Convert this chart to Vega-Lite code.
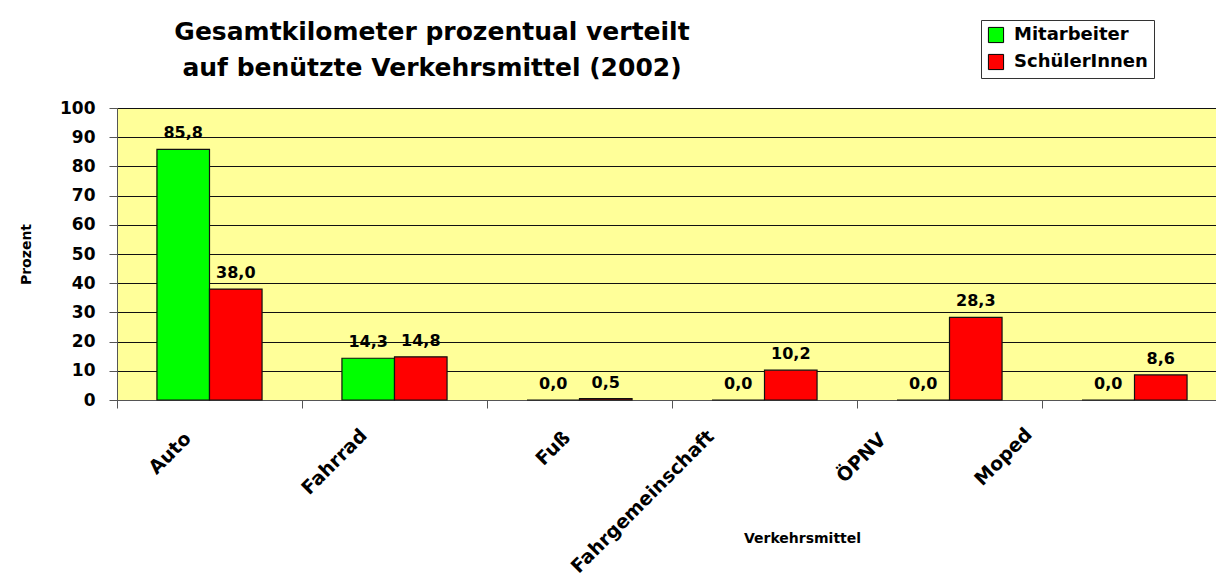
{
  "$schema": "https://vega.github.io/schema/vega-lite/v6.json",
  "autosize": {"type": "none"},
  "width": 1099,
  "height": 292,
  "padding": {"left": 117, "top": 108, "right": 0, "bottom": 175},
  "background": "white",
  "config": {
    "locale": {"number": {"decimal": ",", "thousands": ".", "grouping": [3], "currency": ["", " €"]}},
    "view": {"fill": "#FFFF99", "stroke": null},
    "font": "DejaVu Sans"
  },
  "title": {
    "text": ["Gesamtkilometer prozentual  verteilt", "auf benützte Verkehrsmittel (2002)"],
    "font": "DejaVu Sans",
    "fontSize": 25,
    "fontWeight": "bold",
    "color": "black",
    "frame": "group",
    "anchor": "start",
    "align": "center",
    "dx": 315,
    "dy": 91,
    "lineHeight": 36,
    "offset": 30
  },
  "data": {
    "values": [
      {"Verkehrsmittel": "Auto", "Gruppe": "Mitarbeiter", "Prozent": 85.8},
      {"Verkehrsmittel": "Auto", "Gruppe": "SchülerInnen", "Prozent": 38.0},
      {"Verkehrsmittel": "Fahrrad", "Gruppe": "Mitarbeiter", "Prozent": 14.3},
      {"Verkehrsmittel": "Fahrrad", "Gruppe": "SchülerInnen", "Prozent": 14.8},
      {"Verkehrsmittel": "Fuß", "Gruppe": "Mitarbeiter", "Prozent": 0.0},
      {"Verkehrsmittel": "Fuß", "Gruppe": "SchülerInnen", "Prozent": 0.5},
      {"Verkehrsmittel": "Fahrgemeinschaft", "Gruppe": "Mitarbeiter", "Prozent": 0.0},
      {"Verkehrsmittel": "Fahrgemeinschaft", "Gruppe": "SchülerInnen", "Prozent": 10.2},
      {"Verkehrsmittel": "ÖPNV", "Gruppe": "Mitarbeiter", "Prozent": 0.0},
      {"Verkehrsmittel": "ÖPNV", "Gruppe": "SchülerInnen", "Prozent": 28.3},
      {"Verkehrsmittel": "Moped", "Gruppe": "Mitarbeiter", "Prozent": 0.0},
      {"Verkehrsmittel": "Moped", "Gruppe": "SchülerInnen", "Prozent": 8.6}
    ]
  },
  "encoding": {
    "x": {
      "field": "Verkehrsmittel",
      "type": "nominal",
      "sort": ["Auto", "Fahrrad", "Fuß", "Fahrgemeinschaft", "ÖPNV", "Moped"],
      "scale": {"range": [0, 1110], "paddingInner": 0, "paddingOuter": 0},
      "axis": {
        "title": "Verkehrsmittel",
        "titleFont": "DejaVu Sans",
        "titleFontSize": 14,
        "titleFontWeight": "bold",
        "titleColor": "black",
        "titleX": 685,
        "titleY": 138,
        "titleAngle": 0,
        "titleAlign": "center",
        "titleBaseline": "middle",
        "labelAngle": -45,
        "labelAlign": "right",
        "labelBaseline": "middle",
        "labelLimit": 400,
        "labelOffset": {
          "condition": [
            {"test": "datum.value === 'Auto'", "value": -22},
            {"test": "datum.value === 'Fahrrad'", "value": -31},
            {"test": "datum.value === 'Fuß'", "value": -13},
            {"test": "datum.value === 'Fahrgemeinschaft'", "value": -54},
            {"test": "datum.value === 'ÖPNV'", "value": -67}
          ],
          "value": -106
        },
        "labelPadding": {
          "condition": [
            {"test": "datum.value === 'Auto'", "value": 27},
            {"test": "datum.value === 'Fahrrad'", "value": 24},
            {"test": "datum.value === 'Fuß'", "value": 26},
            {"test": "datum.value === 'Fahrgemeinschaft'", "value": 25},
            {"test": "datum.value === 'ÖPNV'", "value": 28}
          ],
          "value": 23
        },
        "labelFont": "DejaVu Sans",
        "labelFontSize": 19,
        "labelFontWeight": "bold",
        "labelColor": "black",
        "labelOverlap": false,
        "tickBand": "extent",
        "tickSize": 8,
        "tickColor": "#555555",
        "domainColor": "#555555",
        "grid": false
      }
    },
    "xOffset": {
      "field": "Gruppe",
      "sort": ["Mitarbeiter", "SchülerInnen"],
      "scale": {"paddingInner": 0, "paddingOuter": 0.76}
    },
    "y": {
      "field": "Prozent",
      "type": "quantitative",
      "scale": {"domain": [0, 100]},
      "axis": {
        "values": [0, 10, 20, 30, 40, 50, 60, 70, 80, 90, 100],
        "title": "Prozent",
        "titleFont": "DejaVu Sans",
        "titleFontSize": 14,
        "titleFontWeight": "bold",
        "titleColor": "black",
        "titleX": -84,
        "titleY": 146,
        "labelFont": "DejaVu Sans",
        "labelFontSize": 17,
        "labelFontWeight": "bold",
        "labelColor": "black",
        "labelPadding": 14,
        "tickSize": 8,
        "tickColor": "#555555",
        "domainColor": "#555555",
        "grid": true,
        "gridColor": "#111111",
        "gridOpacity": 1,
        "gridWidth": 1
      }
    }
  },
  "layer": [
    {
      "mark": {"type": "bar", "stroke": "#111111", "strokeWidth": 1.2},
      "encoding": {
        "color": {
          "field": "Gruppe",
          "type": "nominal",
          "scale": {"domain": ["Mitarbeiter", "SchülerInnen"], "range": ["#00FF00", "#FF0000"]},
          "legend": {
            "title": null,
            "orient": "none",
            "legendX": 864,
            "legendY": -88,
            "symbolType": "square",
            "symbolSize": 230,
            "symbolStrokeColor": "black",
            "symbolStrokeWidth": 1,
            "symbolOpacity": 1,
            "labelFont": "DejaVu Sans",
            "labelFontSize": 18,
            "labelFontWeight": "bold",
            "labelColor": "black",
            "labelOffset": 9,
            "rowPadding": 7,
            "padding": 6,
            "strokeColor": "#333333",
            "fillColor": "white"
          }
        }
      }
    },
    {
      "mark": {"type": "text", "baseline": "bottom", "dy": -8, "fontSize": 16, "fontWeight": "bold", "font": "DejaVu Sans", "color": "black"},
      "encoding": {
        "text": {"field": "Prozent", "type": "quantitative", "format": ".1f"}
      }
    }
  ]
}
